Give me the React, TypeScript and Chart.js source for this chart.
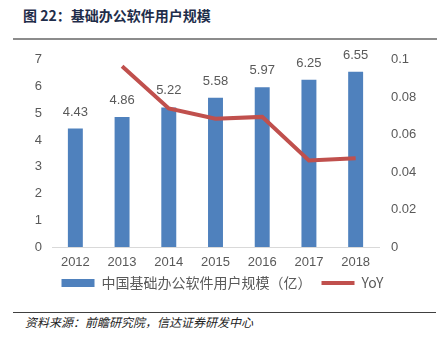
import React, { useEffect, useRef } from "react";
import { Chart, registerables } from "chart.js";

Chart.register(...registerables);

const categories = ["2012", "2013", "2014", "2015", "2016", "2017", "2018"];
const users = [4.43, 4.86, 5.22, 5.58, 5.97, 6.25, 6.55];
const yoy = [null, 0.0965, 0.074, 0.0685, 0.0695, 0.0462, 0.0474];
const leftMax = 7;
const rightMax = 0.1;
const barLabel = "中国基础办公软件用户规模（亿）";
const lineLabel = "YoY";
const titleText = "图 22：基础办公软件用户规模";
const sourceText = "资料来源：前瞻研究院，信达证券研发中心";

const FONT = '"Liberation Sans", "Noto Sans CJK SC", sans-serif';
const CJK = '"Noto Sans CJK SC", "Liberation Sans", sans-serif';
const GRAY = "#595959";
const BLUE = "#4f81bd";
const RED = "#c0504d";

const barLabelsPlugin = {
  id: "barLabels",
  afterDatasetsDraw(chart: any) {
    const ctx = chart.ctx;
    const meta = chart.getDatasetMeta(1);
    ctx.save();
    ctx.font = `13px ${FONT}`;
    ctx.fillStyle = GRAY;
    ctx.textAlign = "center";
    ctx.textBaseline = "bottom";
    meta.data.forEach((bar: any, i: number) => {
      ctx.fillText(users[i].toFixed(2), bar.x, bar.y - 10);
    });
    ctx.restore();
  },
};

function ChartBox() {
  const ref = useRef<HTMLCanvasElement>(null);
  useEffect(() => {
    if (!ref.current) return;
    const chart = new Chart(ref.current, {
      type: "bar",
      data: {
        labels: categories,
        datasets: [
          {
            type: "line",
            label: lineLabel,
            data: yoy as any,
            yAxisID: "y1",
            borderColor: RED,
            backgroundColor: RED,
            borderWidth: 4,
            pointRadius: 0,
            tension: 0,
            order: 0,
          } as any,
          {
            type: "bar",
            label: barLabel,
            data: users,
            yAxisID: "y",
            backgroundColor: BLUE,
            barPercentage: 0.64,
            categoryPercentage: 0.5,
            order: 1,
          },
        ],
      },
      options: {
        animation: false,
        responsive: false,
        maintainAspectRatio: false,
        layout: { padding: { top: 8, left: 0, right: 0, bottom: 0 } },
        plugins: {
          tooltip: { enabled: false },
          legend: {
            position: "bottom",
            reverse: true,
            labels: {
              font: { size: 14, family: CJK },
              color: GRAY,
              usePointStyle: true,
              pointStyleWidth: 33,
              boxHeight: 8,
              padding: 10,
              generateLabels(chart: any) {
                const items = Chart.defaults.plugins.legend.labels.generateLabels(chart);
                return items.map((it: any) => {
                  if (it.datasetIndex === 1) {
                    return { ...it, pointStyle: "rect", fillStyle: BLUE, strokeStyle: BLUE, lineWidth: 0 };
                  }
                  return { ...it, pointStyle: "line", strokeStyle: RED, fillStyle: RED, lineWidth: 4 };
                });
              },
            },
          },
        },
        scales: {
          x: {
            grid: { display: false, drawTicks: false },
            border: { display: true, color: "#d9d9d9", width: 1 },
            ticks: { font: { size: 13, family: FONT }, color: GRAY, padding: 8 },
            afterFit(scale: any) {
              scale.height = 19;
            },
          },
          y: {
            position: "left",
            min: 0,
            max: leftMax,
            grid: { display: false, drawTicks: false },
            border: { display: false },
            ticks: { stepSize: 1, font: { size: 13, family: FONT }, color: GRAY, padding: 10 },
            afterFit(scale: any) {
              scale.width = 52;
            },
          },
          y1: {
            position: "right",
            min: 0,
            max: rightMax,
            grid: { display: false, drawTicks: false },
            border: { display: false },
            ticks: {
              stepSize: 0.02,
              font: { size: 13, family: FONT },
              color: GRAY,
              padding: 12,
              callback: (v: any) => String(Number(Number(v).toFixed(2))),
            },
            afterFit(scale: any) {
              scale.width = 66;
            },
          },
        },
      },
      plugins: [barLabelsPlugin],
    });
    return () => chart.destroy();
  }, []);
  return <canvas ref={ref} width={445} height={260} style={{ position: "absolute", left: 0, top: 40, width: 445, height: 260 }} />;
}

export default function App() {
  return (
    <div style={{ position: "fixed", left: 0, top: 0, width: 445, height: 339, background: "#fff", overflow: "hidden" }}>
      <div
        style={{
          position: "absolute",
          left: 23,
          top: 5,
          fontFamily: CJK,
          fontWeight: "bold",
          fontSize: 14,
          lineHeight: "20px",
          color: "#1f2d4a",
          whiteSpace: "nowrap",
        }}
      >
        {titleText}
      </div>
      <div style={{ position: "absolute", left: 13, top: 38, width: 424, height: 2, background: "#8c8c8c" }} />
      <ChartBox />
      <div style={{ position: "absolute", left: 13, top: 312, width: 423, height: 1, background: "#404040" }} />
      <div
        style={{
          position: "absolute",
          left: 25,
          top: 314,
          fontFamily: CJK,
          fontStyle: "italic",
          fontSize: 12,
          lineHeight: "16px",
          color: "#222",
          whiteSpace: "nowrap",
        }}
      >
        {sourceText}
      </div>
    </div>
  );
}
